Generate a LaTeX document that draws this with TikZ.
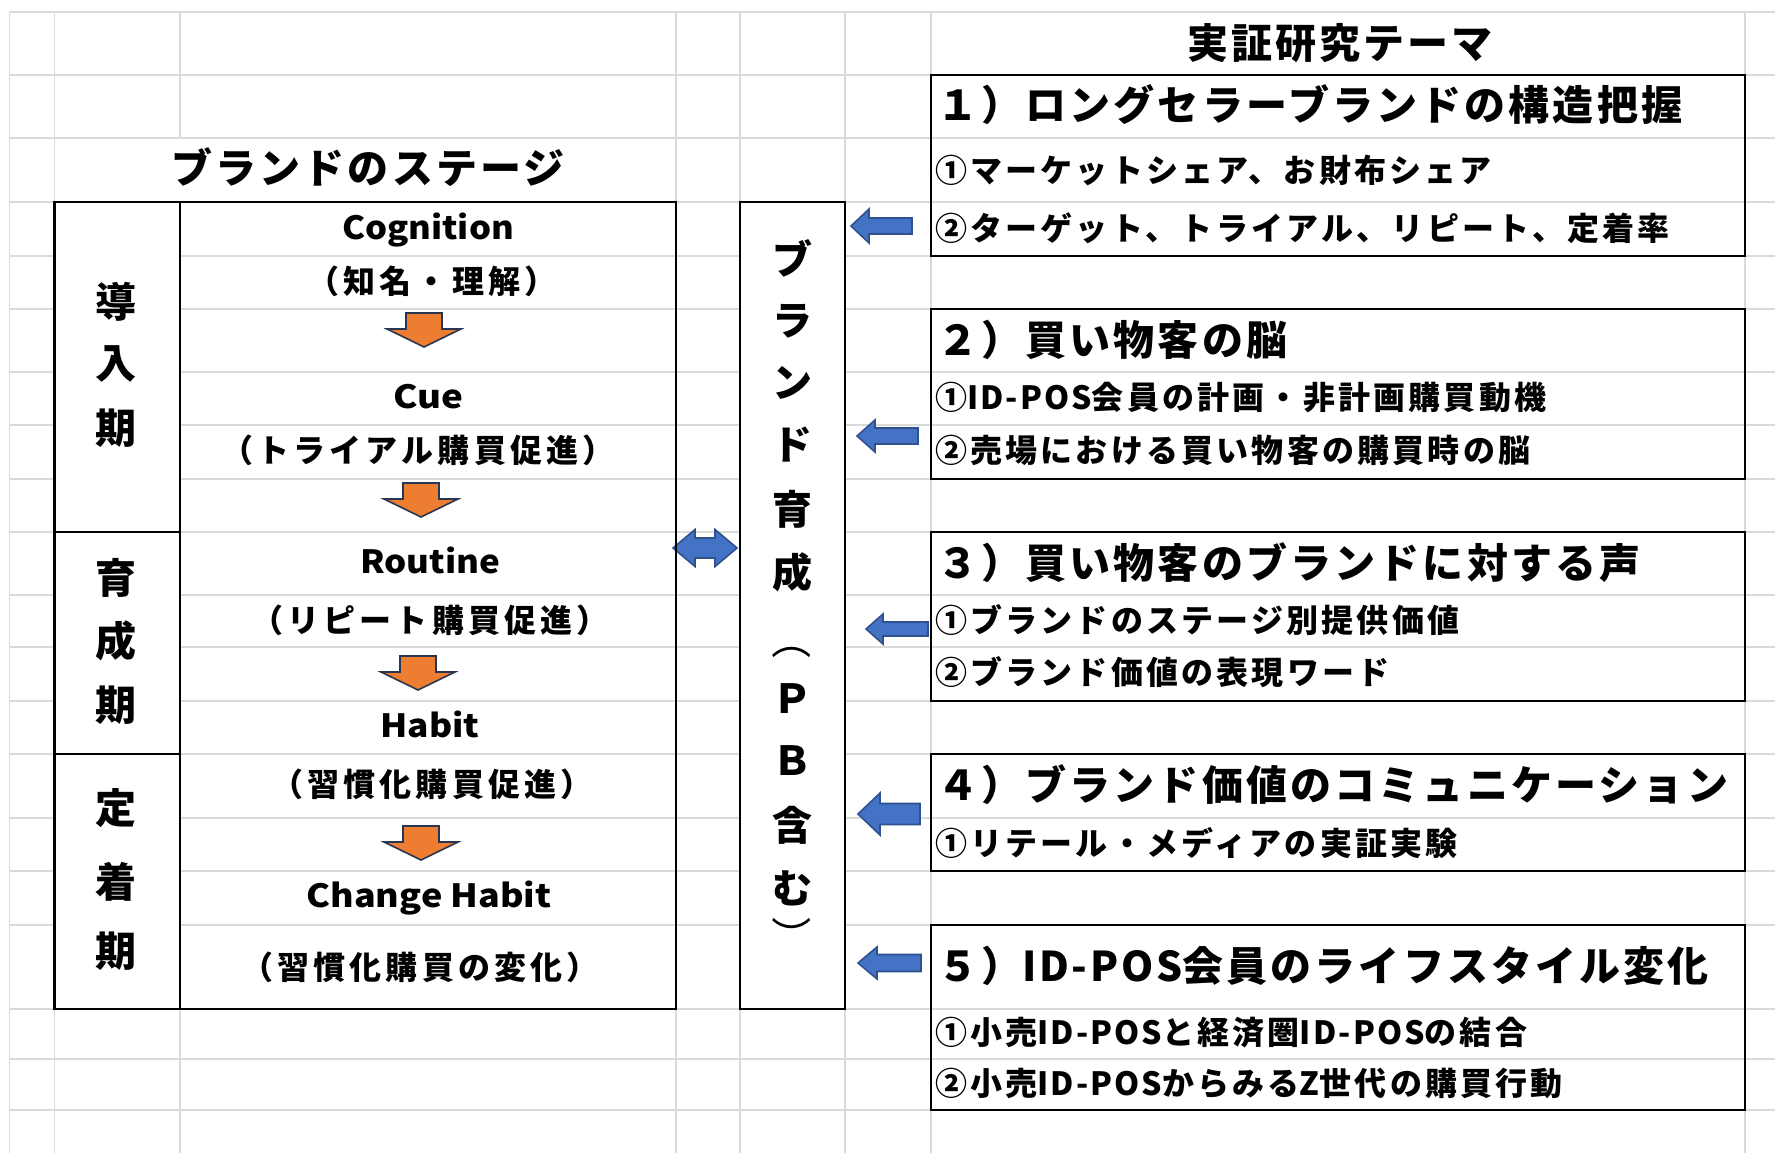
\documentclass[tikz,border=0pt]{standalone}
\usepackage{fontspec}
\usepackage{graphicx}
\newfontfamily\jp{Noto Sans CJK JP}
\definecolor{gridc}{RGB}{218,218,218}
\definecolor{bluef}{RGB}{68,114,196}
\definecolor{blued}{RGB}{47,82,143}
\definecolor{orf}{RGB}{237,125,49}
\definecolor{ord}{RGB}{40,54,84}
\newcommand\ttlf{\jp\bfseries\fontsize{41}{44}\selectfont\addfontfeatures{LetterSpace=7.7}}
\newcommand\itmf{\jp\bfseries\fontsize{32}{36}\selectfont\addfontfeatures{LetterSpace=10}}
\newcommand\lftf{\jp\bfseries\fontsize{32}{36}\selectfont\addfontfeatures{LetterSpace=13}}
\newcommand\stgf{\jp\bfseries\fontsize{41}{44}\selectfont}
\newcommand\midf{\jp\bfseries\fontsize{40}{44}\selectfont}
\newcommand\parf{\jp\fontsize{40}{44}\selectfont}
\newcommand\lat[1]{{\addfontfeatures{LetterSpace=6.5}#1}}
\newcommand\latz[1]{{\addfontfeatures{LetterSpace=0}#1}}
\tikzset{
  box/.style={draw=black, line width=2.6pt, anchor=north west, inner sep=0pt, outer sep=0pt},
  ttl/.style={inner sep=0pt, anchor=base west, font=\ttlf},
  itm/.style={inner sep=0pt, anchor=base west, font=\itmf},
  lft/.style={inner sep=0pt, anchor=base, font=\lftf},
  hd/.style={inner sep=0pt, anchor=base, font=\ttlf},
  stg/.style={inner sep=0pt, anchor=center, font=\stgf},
  mid/.style={inner sep=0pt, anchor=center, font=\midf},
  par/.style={inner sep=0pt, anchor=center, font=\parf, rotate=-90},
  barrow/.style={fill=bluef, draw=blued, line width=1.6pt, line join=miter},
  oarrow/.style={fill=orf, draw=ord, line width=1.6pt, line join=miter},
  gridl/.style={draw=gridc, line width=1.3pt},
}
% blue left arrow: tip x, centre y, length, total height, shaft height, head length
\newcommand\barr[6]{\draw[barrow, shift={(#1,#2)}] (0,0) -- (#6,{-#4/2}) -- (#6,{-#5/2}) -- (#3,{-#5/2}) -- (#3,{#5/2}) -- (#6,{#5/2}) -- (#6,{#4/2}) -- cycle;}
% orange down arrow: centre x, top y
\newcommand\oarr[2]{\draw[oarrow, shift={(#1,#2)}] (-18,0) -- (18,0) -- (18,16) -- (37,16) -- (0,34) -- (-37,16) -- (-18,16) -- cycle;}
\begin{document}
\begin{tikzpicture}[x=1pt,y=-1pt]
\useasboundingbox (0,0) rectangle (1775,1153);
\fill[white] (0,0) rectangle (1775,1153);
% grid
\foreach \gy in {12,75,138,202,256,309,372,425,479,532,595,647,701,754,818,871,925,1009,1059,1110}
  \draw[gridl] (9.5,\gy) -- (1775,\gy);
\foreach \gx in {9.5,54.5,180,676,740,845,931,1745}
  \draw[gridl] (\gx,12) -- (\gx,1153);
% merged cells
\fill[white] (55.5,139) rectangle (675,201);
\fill[white] (55.5,203) rectangle (179,1008);
\fill[white] (741,203) rectangle (844,1008);
% headings
\node[hd] (hL) at (368,183.6) {ブランドのステージ};
\node[hd] (hR) at (1340,58.6) {実証研究テーマ};
% arrows
\oarr{424}{313}
\oarr{421}{483}
\oarr{418}{656}
\oarr{421}{826}
\barr{851}{226}{61}{34}{16}{18}
\barr{857}{436}{61}{32}{16}{18}
\barr{866}{629}{62}{30}{14}{17}
\barr{858}{814}{62}{42}{21}{22}
\barr{858}{963}{63}{32}{17}{19}
\draw[barrow] (673,548) -- (695,529.5) -- (695,538) -- (715,538) -- (715,529.5) -- (737,548) -- (715,566.5) -- (715,558) -- (695,558) -- (695,566.5) -- cycle;
% boxes
\node[box, minimum width=621.5pt, minimum height=807pt] (stages) at (54.5,202) {};
\draw[line width=2.6pt] (180,202) -- (180,1009);
\draw[line width=2.6pt] (54.5,532) -- (180,532);
\draw[line width=2.6pt] (54.5,754) -- (180,754);
\node[box, minimum width=105pt, minimum height=807pt] (pb) at (740,202) {};
\node[box, minimum width=814pt, minimum height=181pt] (b1) at (931,75) {};
\node[box, minimum width=814pt, minimum height=170pt] (b2) at (931,309) {};
\node[box, minimum width=814pt, minimum height=169pt] (b3) at (931,532) {};
\node[box, minimum width=814pt, minimum height=117pt] (b4) at (931,754) {};
\node[box, minimum width=814pt, minimum height=185pt] (b5) at (931,925) {};
% stage labels
\node[stg] (s1) at (116,302) {導};
\node[stg] (s2) at (116,364) {入};
\node[stg] (s3) at (116,428) {期};
\node[stg] (s4) at (116,578) {育};
\node[stg] (s5) at (116,641) {成};
\node[stg] (s6) at (116,705) {期};
\node[stg] (s7) at (116,808) {定};
\node[stg] (s8) at (116,882) {着};
\node[stg] (s9) at (116,951) {期};
% stage texts
\node[lft] (t1) at (428,239) {\resizebox{172pt}{\height}{\latz{Cognition}}};
\node[lft] (t2) at (432,293.2) {（知名・理解）};
\node[lft] (t3) at (428.5,408) {\resizebox{70pt}{\height}{\latz{Cue}}};
\node[lft] (t4) at (418,462.2) {（トライアル購買促進）};
\node[lft] (t5) at (430,573) {\resizebox{140pt}{\height}{\latz{Routine}}};
\node[lft] (t6) at (430,632.2) {（リピート購買促進）};
\node[lft] (t7) at (430,737) {\resizebox{99pt}{\height}{\latz{Habit}}};
\node[lft] (t8) at (432,796.2) {（習慣化購買促進）};
\node[lft] (t9) at (429,907) {\resizebox{245pt}{\height}{\latz{Change Habit}}};
\node[lft] (t10) at (420,979.2) {（習慣化購買の変化）};
% middle column
\node[mid] (m1) at (792,258) {ブ};
\node[mid] (m2) at (792,321) {ラ};
\node[mid] (m3) at (792,383) {ン};
\node[mid] (m4) at (792,445) {ド};
\node[mid] (m5) at (792,509) {育};
\node[mid] (m6) at (792,572) {成};
\node[par] (m7) at (792,639) {（};
\node[mid] (m8) at (792,699) {Ｐ};
\node[mid] (m9) at (792,761) {Ｂ};
\node[mid] (m10) at (792,825) {含};
\node[mid] (m11) at (792,888) {む};
\node[par] (m12) at (792,936) {）};
% theme texts
\node[ttl] (r1) at (937,120.6) {１）ロングセラーブランドの構造把握};
\node[itm] (r1a) at (935,182.2) {①マーケットシェア、お財布シェア};
\node[itm] (r1b) at (935,240.2) {②ターゲット、トライアル、リピート、定着率};
\node[ttl] (r2) at (937,355.6) {２）買い物客の脳};
\node[itm] (r2a) at (935,409.2) {①\lat{ID-POS}会員の計画・非計画購買動機};
\node[itm] (r2b) at (935,462.2) {②売場における買い物客の購買時の脳};
\node[ttl] (r3) at (937,578.6) {３）買い物客のブランドに対する声};
\node[itm] (r3a) at (935,632.2) {①ブランドのステージ別提供価値};
\node[itm] (r3b) at (935,684.2) {②ブランド価値の表現ワード};
\node[ttl] (r4) at (937,800.6) {４）ブランド価値のコミュニケーション};
\node[itm] (r4a) at (935,855.2) {①リテール・メディアの実証実験};
\node[ttl] (r5) at (937,981.6) {５）\lat{ID-POS}会員のライフスタイル変化};
\node[itm] (r5a) at (935,1044.2) {①小売\lat{ID-POS}と経済圏\lat{ID-POS}の結合};
\node[itm] (r5b) at (935,1095.2) {②小売\lat{ID-POS}からみる\lat{Z}世代の購買行動};
\end{tikzpicture}
\end{document}
